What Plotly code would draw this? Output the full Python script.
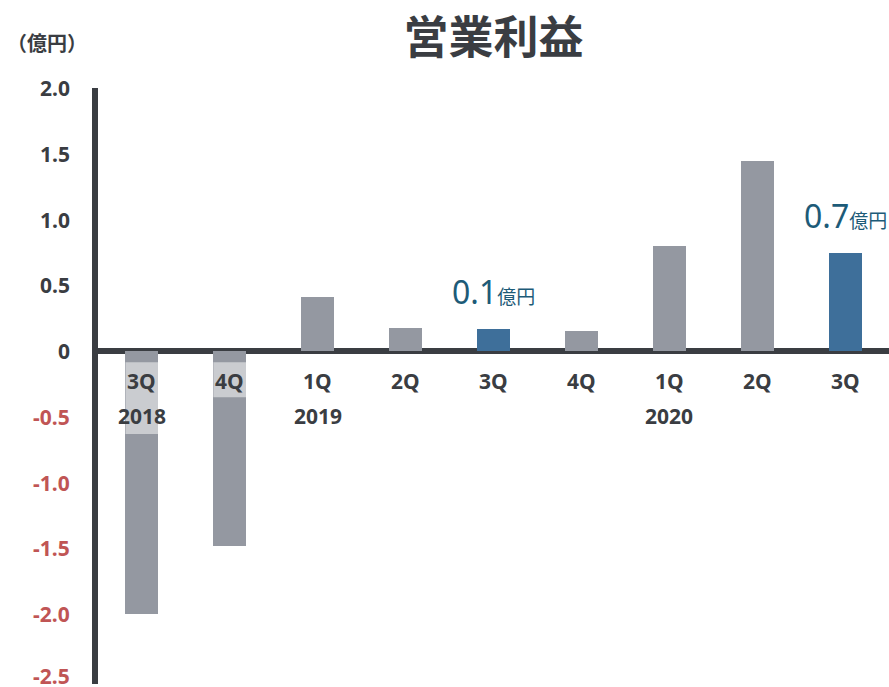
import math
import plotly.graph_objects as go

# Quarterly operating profit (100 million yen)
quarters = ["3Q", "4Q", "1Q", "2Q", "3Q", "4Q", "1Q", "2Q", "3Q"]
years = ["2018", "", "2019", "", "", "", "2020", "", ""]
profit = [-2.0, -1.48, 0.41, 0.175, 0.17, 0.15, 0.80, 1.445, 0.745]
highlight = [False, False, False, False, True, False, False, False, True]

tick_vals = [2.0, 1.5, 1.0, 0.5, 0, -0.5, -1.0, -1.5, -2.0, -2.5]
tick_text = ["2.0", "1.5", "1.0", "0.5", "0", "-0.5", "-1.0", "-1.5", "-2.0", "-2.5"]

DARK = "#3a3d42"
GREY = "#9498a1"
BLUE = "#3e6f9a"
LABEL_BLUE = "#1d5b78"
RED = "#c05555"
FONT = "Noto Sans, Open Sans, Noto Sans CJK JP, sans-serif"
JP = "Noto Sans CJK JP, sans-serif"
Y_MIN = -2.53

xs = list(range(len(profit)))
colors = [BLUE if h else GREY for h in highlight]

fig = go.Figure()
fig.add_trace(go.Bar(
    x=xs, y=profit, width=0.375,
    marker=dict(color=colors, line=dict(width=0)),
    hoverinfo="skip",
))

annotations = []

# y tick labels (drawn as annotations so the bottom one is not dropped)
for v, t in zip(tick_vals, tick_text):
    annotations.append(dict(
        x=0, y=v, xref="paper", yref="y", text=f"<b>{t}</b>", showarrow=False,
        xanchor="right", yanchor="middle", xshift=-26,
        yshift=4 if v <= Y_MIN + 0.05 else 0,
        font=dict(family=FONT, size=21, color=RED if v < 0 else DARK),
    ))

# quarter / year category labels
for i, (q, yr) in enumerate(zip(quarters, years)):
    annotations.append(dict(
        x=i, y=0, xref="x", yref="y", text=f"<b>{q}</b>", showarrow=False,
        yanchor="middle", yshift=-30,
        font=dict(family=FONT, size=21, color=DARK),
    ))
    if yr:
        annotations.append(dict(
            x=i, y=0, xref="x", yref="y", text=f"<b>{yr}</b>", showarrow=False,
            yanchor="middle", yshift=-65,
            font=dict(family=FONT, size=21, color=DARK),
        ))

# value call-outs on highlighted bars (truncated to one decimal)
for i, (v, h) in enumerate(zip(profit, highlight)):
    if h:
        shown = math.floor(v * 10 + 1e-9) / 10
        annotations.append(dict(
            x=i, y=v, xref="x", yref="y", showarrow=False,
            yanchor="bottom", yshift=14,
            text=(f"<span style='font-size:32px'>{shown:.1f}</span>"
                  f"<span style='font-size:19px;font-family:{JP}'>億円</span>"),
            font=dict(family=FONT, size=32, color=LABEL_BLUE),
        ))

# unit label
annotations.append(dict(
    x=-0.118, y=1.077, xref="paper", yref="paper", text="<b>（億円）</b>",
    showarrow=False, xanchor="left", yanchor="middle",
    font=dict(family=JP, size=20, color=DARK),
))

# light panels behind the category labels where negative bars pass
shapes = [
    dict(type="rect", xref="x", yref="y", layer="above",
         x0=-0.1875, x1=0.1875, y0=-0.084, y1=-0.63,
         fillcolor="rgba(255,255,255,0.5)", line=dict(width=0)),
    dict(type="rect", xref="x", yref="y", layer="above",
         x0=0.8125, x1=1.1875, y0=-0.084, y1=-0.35,
         fillcolor="rgba(255,255,255,0.5)", line=dict(width=0)),
]

fig.update_layout(
    width=889, height=687,
    margin=dict(l=98, r=0, t=88, b=3),
    paper_bgcolor="white", plot_bgcolor="white",
    showlegend=False,
    bargap=0,
    title=dict(
        text="<b>営業利益</b>", x=0.5, xref="paper", y=0.945, yref="container",
        xanchor="center", yanchor="middle",
        font=dict(family=JP, size=45, color=DARK),
    ),
    xaxis=dict(
        range=[-0.5, 8.5], showticklabels=False, showgrid=False,
        zeroline=False, showline=False, ticks="",
    ),
    yaxis=dict(
        range=[Y_MIN, 2.0], showticklabels=False,
        showgrid=False, zeroline=True, zerolinecolor=DARK, zerolinewidth=6,
        showline=True, linecolor=DARK, linewidth=6, ticks="",
    ),
    annotations=annotations,
    shapes=shapes,
)

fig.write_html("out.html", config={"displayModeBar": False})
